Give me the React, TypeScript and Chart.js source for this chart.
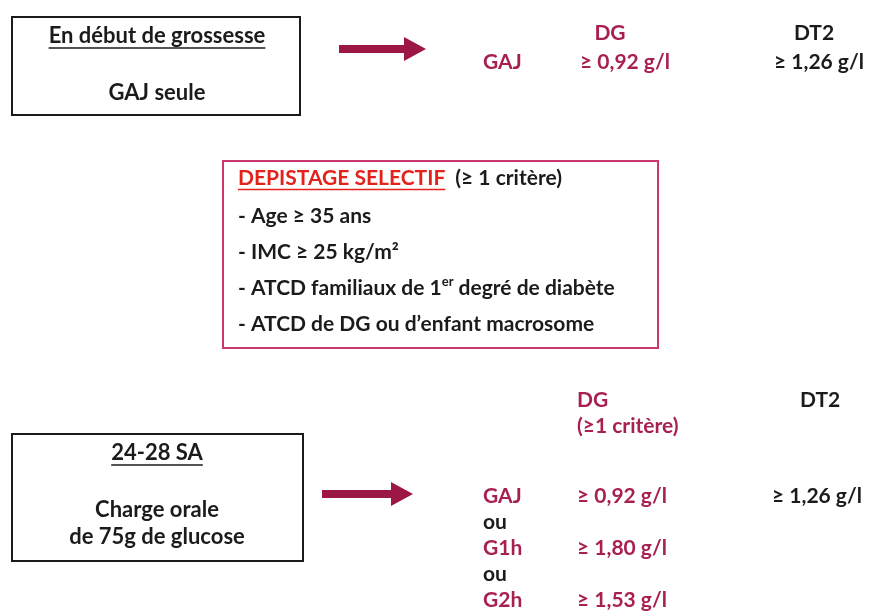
import React, { useEffect, useRef } from "react";
import { Chart, registerables } from "chart.js";

Chart.register(...registerables);

// ---- Data (content only) ----
const earlyTitle = "En début de grossesse";
const earlySubtitle = "GAJ seule";
const earlyTests = ["GAJ"];
const earlyDG = [0.92];
const earlyDT2 = [1.26];

const columnHeads = ["DG", "DT2"];
const dgNote = "(≥1 critère)";

const screeningTitle = "DEPISTAGE SELECTIF";
const screeningNote = "(≥ 1 critère)";
const criteria = [
  "Age ≥ 35 ans",
  "IMC ≥ 25 kg/m²",
  "ATCD familiaux de 1|er| degré de diabète",
  "ATCD de DG ou d’enfant macrosome",
];

const ogttTitle = "24-28 SA";
const ogttLines = ["Charge orale", "de 75g de glucose"];
const ogttTests = ["GAJ", "G1h", "G2h"];
const ogttDG = [0.92, 1.8, 1.53];
const ogttDT2: (number | null)[] = [1.26, null, null];
const orWord = "ou";

// ---- Styles ----
const W = 869;
const H = 615;
const FONT = "Lato, 'DejaVu Sans', sans-serif";
const FS = 21;
const FS_BOX = 22;
const BLACK = "#1b1b1b";
const RED = "#a81f52";
const BRIGHT_RED = "#e3221c";
const PINK = "#c9386f";
const ARROW = "#9c1646";

const fmt = (v: number) => "≥ " + v.toFixed(2).replace(".", ",") + " g/l";

const diagramPlugin = {
  id: "diagram",
  afterDraw(chart: any) {
    const ctx: CanvasRenderingContext2D = chart.ctx;
    const xs = chart.scales.x;
    const ys = chart.scales.y;
    const X = (v: number) => xs.getPixelForValue(v);
    const Y = (v: number) => ys.getPixelForValue(v);
    ctx.save();
    ctx.textBaseline = "middle";

    const text = (
      s: string,
      x: number,
      y: number,
      color: string,
      align: "left" | "center" = "left",
      underline = false,
      size = FS
    ) => {
      const parts = s.split("|");
      let total = 0;
      const widths = parts.map((p, i) => {
        ctx.font = `bold ${i % 2 ? Math.round(size * 0.6) : size}px ${FONT}`;
        const w = ctx.measureText(p).width;
        total += w;
        return w;
      });
      let px = X(x);
      if (align === "center") px -= total / 2;
      const py = Y(y);
      const start = px;
      ctx.fillStyle = color;
      ctx.textAlign = "left";
      parts.forEach((p, i) => {
        const sup = i % 2 === 1;
        ctx.font = `bold ${sup ? Math.round(size * 0.6) : size}px ${FONT}`;
        ctx.fillText(p, px, sup ? py - size * 0.3 : py);
        px += widths[i];
      });
      if (underline) {
        ctx.strokeStyle = color;
        ctx.lineWidth = 1.5;
        ctx.beginPath();
        ctx.moveTo(start, py + size * 0.55);
        ctx.lineTo(start + total, py + size * 0.55);
        ctx.stroke();
      }
      return total;
    };

    const box = (x0: number, y0: number, x1: number, y1: number, color: string) => {
      ctx.strokeStyle = color;
      ctx.lineWidth = 2;
      ctx.strokeRect(X(x0), Y(y0), X(x1) - X(x0), Y(y1) - Y(y0));
    };

    const arrow = (x0: number, x1: number, y: number) => {
      const a = X(x0);
      const b = X(x1);
      const c = Y(y);
      const head = 22;
      ctx.fillStyle = ARROW;
      ctx.fillRect(a, c - 4, b - a - head + 2, 8);
      ctx.beginPath();
      ctx.moveTo(b - head, c - 12);
      ctx.lineTo(b, c);
      ctx.lineTo(b - head, c + 12);
      ctx.closePath();
      ctx.fill();
    };

    // ---- Top block ----
    box(12, 17, 300, 115, BLACK);
    text(earlyTitle, 157, 36, BLACK, "center", true, FS_BOX);
    text(earlySubtitle, 157, 93, BLACK, "center", false, FS_BOX);
    arrow(339, 426, 49);
    text(columnHeads[0], 610, 33, RED, "center");
    text(columnHeads[1], 814, 33, BLACK, "center");
    earlyTests.forEach((t, i) => {
      const y = 62 + i * 22;
      text(t, 483, y, RED);
      text(fmt(earlyDG[i]), 580, y, RED);
      if (earlyDT2[i] != null) text(fmt(earlyDT2[i] as number), 774, y, BLACK);
    });

    // ---- Screening box ----
    box(223, 161, 658, 348, PINK);
    const tw = text(screeningTitle, 238, 178, BRIGHT_RED, "left", true);
    text(screeningNote, 238 + tw + 10, 178, BLACK);
    criteria.forEach((c, i) => {
      text("- " + c, 238, 216 + i * 36, BLACK);
    });

    // ---- OGTT block ----
    text(columnHeads[0], 577, 400, RED);
    text(dgNote, 577, 426, RED);
    text(columnHeads[1], 800, 400, BLACK);
    box(12, 434, 303, 561, BLACK);
    text(ogttTitle, 157, 453, BLACK, "center", true, FS_BOX);
    ogttLines.forEach((l, i) => text(l, 157, 510 + i * 27, BLACK, "center", false, FS_BOX));
    arrow(322, 413, 494);
    ogttTests.forEach((t, i) => {
      const y = 496 + i * 52;
      text(t, 483, y, RED);
      text(fmt(ogttDG[i]), 577, y, RED);
      const d = ogttDT2[i];
      if (d != null) text(fmt(d), 772, y, BLACK);
      if (i < ogttTests.length - 1) text(orWord, 483, y + 26, BLACK);
    });

    ctx.restore();
  },
};

export default function App() {
  const ref = useRef<HTMLCanvasElement | null>(null);
  useEffect(() => {
    if (!ref.current) return;
    const chart = new Chart(ref.current, {
      type: "scatter",
      data: { datasets: [{ data: [], pointRadius: 0 }] },
      options: {
        animation: false,
        responsive: false,
        events: [],
        layout: { padding: 0 },
        plugins: { legend: { display: false }, tooltip: { enabled: false } },
        scales: {
          x: { type: "linear", min: 0, max: W, display: false },
          y: { type: "linear", min: 0, max: H, reverse: true, display: false },
        },
      },
      plugins: [diagramPlugin],
    });
    return () => chart.destroy();
  }, []);
  return (
    <div style={{ position: "fixed", left: 0, top: 0, width: W, height: H, background: "#fff" }}>
      <canvas ref={ref} width={W} height={H} style={{ display: "block" }} />
    </div>
  );
}
